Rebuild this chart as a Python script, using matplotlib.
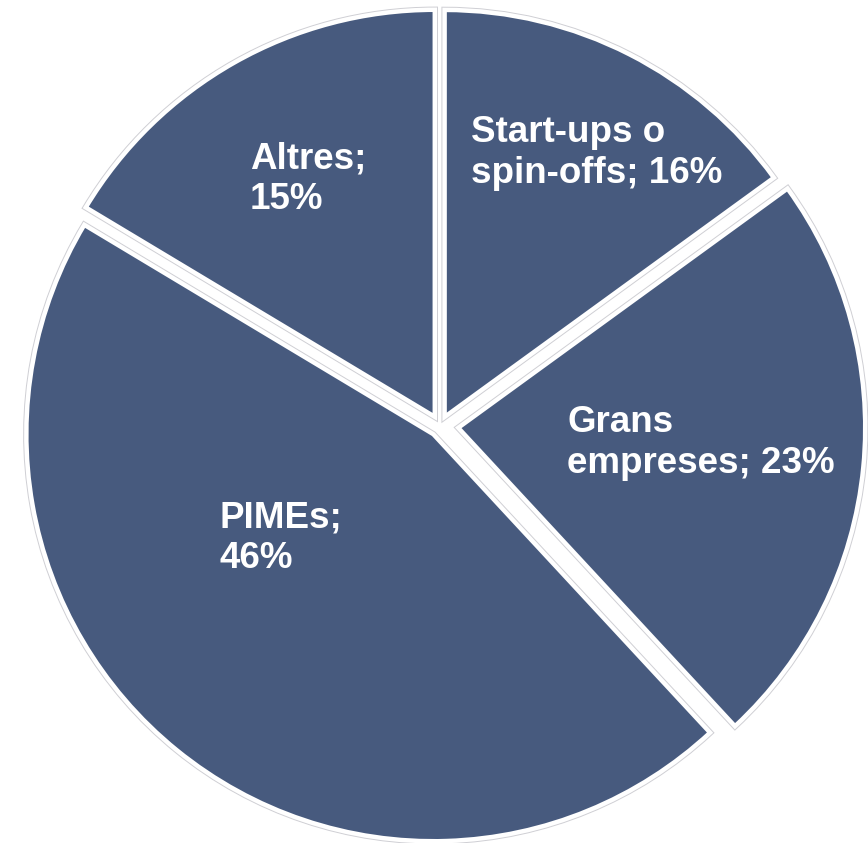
import matplotlib.pyplot as plt
import matplotlib.patheffects as pe

categories = ['Start-ups o spin-offs', 'Grans empreses', 'PIMEs', 'Altres']
# slice sizes as drawn in the picture (the printed labels round differently)
shares = [15.0, 23.1, 45.5, 16.4]
printed_pct = [16, 23, 46, 15]
label_names = ['Start-ups o\nspin-offs;', 'Grans\nempreses;', 'PIMEs;\n', 'Altres;\n']

# layout (407 px per radius, pie centre at px (440, 426))
px = 407
explode = [0.025, 0.045, 0.026, 0.026]
label_xy = [(0.386, 0.671), (0.641, -0.042), (-0.391, -0.275), (-0.324, 0.607)]
slice_color = '#475A7E'

plt.rcParams['font.family'] = ['Liberation Sans', 'DejaVu Sans']

fig = plt.figure(figsize=(8.68, 8.43), dpi=100)
ax = fig.add_axes([0, 0, 1, 1])

wedges, _ = ax.pie(shares, startangle=90, counterclock=False, explode=explode,
                   colors=[slice_color] * len(shares), radius=1.0,
                   wedgeprops=dict(edgecolor='white', linewidth=3.2))
for w in wedges:
    w.set_path_effects([pe.Stroke(linewidth=4.6, foreground='#cfcfd4'), pe.Normal()])

for name, pct, (x, y) in zip(label_names, printed_pct, label_xy):
    sep = '' if name.endswith('\n') else ' '
    ax.text(x, y, f'{name}{sep}{pct}%', ha='center', va='center', multialignment='left',
            color='white', fontsize=26.5, fontweight='bold', linespacing=1.2)

ax.set_xlim(-440 / px, (868 - 440) / px)
ax.set_ylim(-(843 - 426) / px, 426 / px)
ax.set_aspect('auto')
ax.axis('off')

fig.savefig('out.png', dpi=100, facecolor='white')
